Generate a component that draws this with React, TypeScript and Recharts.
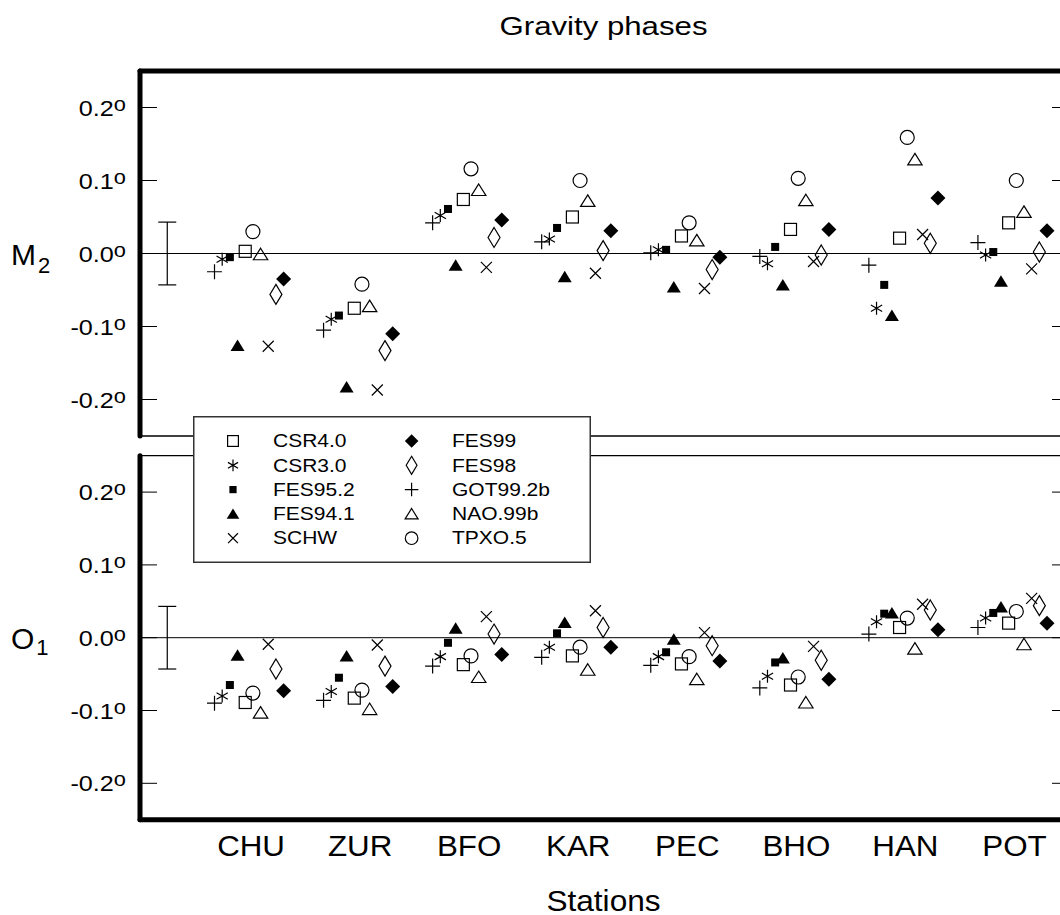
import React from 'react';
import { ScatterChart, Scatter, XAxis, YAxis, ReferenceLine, ErrorBar, Legend, Label } from 'recharts';

const FONT = '"Liberation Sans", Arial, Helvetica, sans-serif';

// ---------- data ----------
const stations = ['CHU', 'ZUR', 'BFO', 'KAR', 'PEC', 'BHO', 'HAN', 'POT'];
const yTicks = [-0.2, -0.1, 0, 0.1, 0.2];
const errorHalfWidth = 0.043;

// M2 gravity phase differences (degrees), per station
const m2CSR40 = [0.003, -0.075, 0.074, 0.05, 0.024, 0.033, 0.021, 0.042];
const m2CSR30 = [-0.008, -0.09, 0.052, 0.02, 0.005, -0.014, -0.075, -0.002];
const m2FES952 = [-0.005, -0.085, 0.061, 0.035, 0.005, 0.009, -0.043, 0.002];
const m2FES941 = [-0.126, -0.183, -0.016, -0.032, -0.046, -0.043, -0.085, -0.038];
const m2SCHW = [-0.127, -0.187, -0.019, -0.027, -0.048, -0.011, 0.026, -0.021];
const m2FES99 = [-0.035, -0.11, 0.046, 0.031, -0.005, 0.033, 0.076, 0.031];
const m2FES98 = [-0.056, -0.133, 0.022, 0.004, -0.022, -0.002, 0.014, 0.002];
const m2GOT992b = [-0.025, -0.105, 0.042, 0.016, 0.001, -0.004, -0.016, 0.015];
const m2NAO99b = [-0.001, -0.072, 0.087, 0.072, 0.018, 0.073, 0.129, 0.057];
const m2TPXO5 = [0.03, -0.042, 0.116, 0.1, 0.042, 0.103, 0.159, 0.1];

// O1 gravity phase differences (degrees), per station
const o1CSR40 = [-0.089, -0.083, -0.037, -0.025, -0.036, -0.065, 0.014, 0.02];
const o1CSR30 = [-0.08, -0.074, -0.026, -0.013, -0.026, -0.053, 0.022, 0.027];
const o1FES952 = [-0.065, -0.055, -0.007, 0.006, -0.02, -0.034, 0.033, 0.034];
const o1FES941 = [-0.024, -0.025, 0.013, 0.021, -0.002, -0.028, 0.034, 0.042];
const o1SCHW = [-0.009, -0.01, 0.029, 0.037, 0.007, -0.012, 0.046, 0.054];
const o1FES99 = [-0.073, -0.067, -0.023, -0.013, -0.032, -0.057, 0.011, 0.02];
const o1FES98 = [-0.043, -0.039, 0.005, 0.014, -0.011, -0.031, 0.038, 0.044];
const o1GOT992b = [-0.09, -0.086, -0.039, -0.027, -0.038, -0.069, 0.005, 0.014];
const o1NAO99b = [-0.103, -0.098, -0.054, -0.044, -0.057, -0.089, -0.015, -0.009];
const o1TPXO5 = [-0.076, -0.072, -0.025, -0.013, -0.026, -0.054, 0.027, 0.036];

// ---------- series styling (marker + slot within a station group) ----------
const SLOT = 0.0704;
const series = [
  { name: 'CSR4.0', kind: 'square', slot: -0.5, m2: m2CSR40, o1: o1CSR40 },
  { name: 'CSR3.0', kind: 'asterisk', slot: -3.5, m2: m2CSR30, o1: o1CSR30 },
  { name: 'FES95.2', kind: 'fsquare', slot: -2.5, m2: m2FES952, o1: o1FES952 },
  { name: 'FES94.1', kind: 'ftriangle', slot: -1.5, m2: m2FES941, o1: o1FES941 },
  { name: 'SCHW', kind: 'cross', slot: 2.5, m2: m2SCHW, o1: o1SCHW },
  { name: 'FES99', kind: 'fdiamond', slot: 4.5, m2: m2FES99, o1: o1FES99 },
  { name: 'FES98', kind: 'diamond', slot: 3.5, m2: m2FES98, o1: o1FES98 },
  { name: 'GOT99.2b', kind: 'plus', slot: -4.5, m2: m2GOT992b, o1: o1GOT992b },
  { name: 'NAO.99b', kind: 'triangle', slot: 1.5, m2: m2NAO99b, o1: o1NAO99b },
  { name: 'TPXO.5', kind: 'circle', slot: 0.5, m2: m2TPXO5, o1: o1TPXO5 },
];

const ERR_X = -0.75;
const errData = [{ x: ERR_X, y: 0, e: errorHalfWidth }];

// ---------- drawing helpers ----------
function Marker({ kind, cx, cy, k = 1 }: any) {
  const st = { stroke: '#000', strokeWidth: 1.2, fill: 'none' };
  switch (kind) {
    case 'square':
      return <rect x={cx - 6 * k} y={cy - 6 * k} width={12 * k} height={12 * k} {...st} />;
    case 'fsquare':
      return <rect x={cx - 4 * k} y={cy - 4 * k} width={8 * k} height={8 * k} fill="#000" />;
    case 'asterisk': {
      const r = 6.5 * k;
      const a = r * Math.cos(Math.PI / 6);
      const b = r * 0.5;
      return (
        <path
          d={`M${cx},${cy - r}V${cy + r}M${cx - a},${cy - b}L${cx + a},${cy + b}M${cx - a},${cy + b}L${cx + a},${cy - b}`}
          {...st}
        />
      );
    }
    case 'ftriangle':
      return <path d={`M${cx},${cy - 6 * k}L${cx + 7 * k},${cy + 5.5 * k}L${cx - 7 * k},${cy + 5.5 * k}Z`} fill="#000" />;
    case 'triangle':
      return <path d={`M${cx},${cy - 6 * k}L${cx + 7.2 * k},${cy + 5.5 * k}L${cx - 7.2 * k},${cy + 5.5 * k}Z`} {...st} />;
    case 'cross': {
      const r = 5.5 * k;
      return <path d={`M${cx - r},${cy - r}L${cx + r},${cy + r}M${cx - r},${cy + r}L${cx + r},${cy - r}`} {...st} />;
    }
    case 'plus': {
      const r = 7.5 * k;
      return <path d={`M${cx - r},${cy}H${cx + r}M${cx},${cy - r}V${cy + r}`} {...st} />;
    }
    case 'diamond':
      return <path d={`M${cx},${cy - 10 * k}L${cx + 6 * k},${cy}L${cx},${cy + 10 * k}L${cx - 6 * k},${cy}Z`} {...st} />;
    case 'fdiamond':
      return <path d={`M${cx},${cy - 7.5 * k}L${cx + 7.5 * k},${cy}L${cx},${cy + 7.5 * k}L${cx - 7.5 * k},${cy}Z`} fill="#000" />;
    case 'circle':
      return <circle cx={cx} cy={cy} r={7 * k} {...st} />;
    default:
      return <g />;
  }
}

function SText({ x, y, size, sx = 1, anchor = 'start', children }: any) {
  return (
    <text
      transform={`translate(${x},${y}) scale(${sx},1)`}
      x={0}
      y={0}
      fontSize={size}
      textAnchor={anchor}
      fontFamily={FONT}
      fill="#000"
    >
      {children}
    </text>
  );
}

const LeftTick = (p: any) => {
  const v = p.payload.value as number;
  return (
    <g>
      <line x1={p.x} x2={p.x + 17} y1={p.y} y2={p.y} stroke="#000" strokeWidth={1} />
      <SText x={p.x - 14} y={p.y + 8} size={22.5} sx={1.12} anchor="end">
        {v.toFixed(1)}
        <tspan fontSize={19.5} dy={-5}>o</tspan>
      </SText>
    </g>
  );
};

const RightTick = (p: any) => (
  <line x1={p.x - 15} x2={p.x} y1={p.y} y2={p.y} stroke="#000" strokeWidth={1} />
);

const StationTick = (p: any) => (
  <SText x={p.x + 2} y={p.y + 36} size={29} sx={1.08} anchor="middle">
    {stations[p.payload.value]}
  </SText>
);

const panelLabel = (main: string, sub: string, drop: number) => (props: any) => {
  const vb = props.viewBox;
  const cy = vb.y + vb.height / 2;
  return (
    <text x={11} y={cy + 11.5} fontSize={30} fontFamily={FONT} fill="#000">
      {main}
      <tspan fontSize={22} dx={2} dy={drop}>{sub}</tspan>
    </text>
  );
};

const TitleLabel = (props: any) => {
  const vb = props.viewBox;
  return (
    <SText x={vb.x + vb.width / 2} y={vb.y + 35} size={26} sx={1.2} anchor="middle">
      Gravity phases
    </SText>
  );
};

const StationsLabel = (props: any) => {
  const vb = props.viewBox;
  return (
    <SText x={vb.x + vb.width / 2} y={vb.y + 91} size={29} sx={1.09} anchor="middle">
      Stations
    </SText>
  );
};

const legendCol1 = ['CSR4.0', 'CSR3.0', 'FES95.2', 'FES94.1', 'SCHW'];
const legendCol2 = ['FES99', 'FES98', 'GOT99.2b', 'NAO.99b', 'TPXO.5'];

const LegendBox = () => {
  const kindOf = (n: string) => series.find((s) => s.name === n)!.kind;
  const rowY = (r: number) => 25 + r * 24.3;
  return (
    <svg width={398} height={147} style={{ display: 'block' }}>
      <rect x={0.75} y={0.75} width={396.5} height={145.5} fill="#fff" stroke="#333" strokeWidth={1.5} />
      {legendCol1.map((n, r) => (
        <g key={n}>
          <Marker kind={kindOf(n)} cx={40} cy={rowY(r)} k={0.9} />
          <SText x={80} y={rowY(r) + 6.2} size={17.5} sx={1.2}>{n}</SText>
        </g>
      ))}
      {legendCol2.map((n, r) => (
        <g key={n}>
          <Marker kind={kindOf(n)} cx={218.6} cy={rowY(r)} k={0.9} />
          <SText x={259} y={rowY(r) + 6.2} size={17.5} sx={1.2}>{n}</SText>
        </g>
      ))}
    </svg>
  );
};

const X_DOMAIN: [number, number] = [-1, 7.5];
const Y_DOMAIN: [number, number] = [-0.25, 0.25];
const CHART_W = 1072;

function pointsFor(values: number[], slot: number) {
  return values.map((v, i) => ({ x: i + slot * SLOT, y: v }));
}

function Panel({ which }: { which: 'm2' | 'o1' }) {
  return (
    <>
      {series.map((s) => (
        <Scatter
          key={s.name}
          name={s.name}
          data={pointsFor(s[which], s.slot)}
          isAnimationActive={false}
          shape={(p: any) => <Marker kind={s.kind} cx={p.cx} cy={p.cy} />}
        />
      ))}
    </>
  );
}

export default function App() {
  const axisThick = { stroke: '#000', strokeWidth: 5, strokeLinecap: 'round' } as any;
  return (
    <div
      style={{
        position: 'absolute',
        left: 0,
        top: 0,
        width: 1060,
        height: 915,
        overflow: 'hidden',
        background: '#fff',
      }}
    >
      {/* M2 panel */}
      <div style={{ position: 'absolute', left: 0, top: 0, zIndex: 2 }}>
        <ScatterChart width={CHART_W} height={440} margin={{ top: 0, right: 0, bottom: 4, left: 0 }}>
          <XAxis
            type="number"
            dataKey="x"
            domain={X_DOMAIN}
            allowDataOverflow
            orientation="top"
            height={71}
            tick={false}
            tickLine={false}
            axisLine={axisThick}
          >
            <Label content={TitleLabel} />
          </XAxis>
          <YAxis
            type="number"
            dataKey="y"
            domain={Y_DOMAIN}
            allowDataOverflow
            ticks={yTicks}
            width={140}
            tickSize={0}
            tickMargin={0}
            tickLine={false}
            axisLine={axisThick}
            tick={LeftTick}
            interval={0}
          >
            <Label content={panelLabel('M', '2', 8)} />
          </YAxis>
          <YAxis
            yAxisId="r"
            orientation="right"
            type="number"
            domain={Y_DOMAIN}
            allowDataOverflow
            ticks={yTicks}
            width={5}
            tickSize={0}
            tickMargin={0}
            tickLine={false}
            axisLine={false}
            tick={RightTick}
            interval={0}
          />
          <ReferenceLine y={0} stroke="#000" strokeWidth={1} />
          <ReferenceLine y={-0.25} stroke="#000" strokeWidth={1.3} />
          <Scatter name="err" data={errData} isAnimationActive={false} shape={() => <g />} legendType="none">
            <ErrorBar dataKey="e" direction="y" width={9} stroke="#000" strokeWidth={1.2} />
          </Scatter>
          {Panel({ which: 'm2' })}
          <Legend
            layout="horizontal"
            verticalAlign="middle"
            align="center"
            content={LegendBox}
            wrapperStyle={{ position: 'absolute', left: 192.7, top: 416, width: 398, height: 147, zIndex: 5 }}
          />
        </ScatterChart>
      </div>

      {/* O1 panel */}
      <div style={{ position: 'absolute', left: 0, top: 440, zIndex: 1 }}>
        <ScatterChart width={CHART_W} height={475} margin={{ top: 15.7, right: 0, bottom: 0, left: 0 }}>
          <XAxis
            type="number"
            dataKey="x"
            domain={X_DOMAIN}
            allowDataOverflow
            orientation="bottom"
            height={95.3}
            ticks={[0, 1, 2, 3, 4, 5, 6, 7]}
            interval={0}
            tickSize={0}
            tickMargin={0}
            tickLine={false}
            axisLine={axisThick}
            tick={StationTick}
          >
            <Label content={StationsLabel} />
          </XAxis>
          <YAxis
            type="number"
            dataKey="y"
            domain={Y_DOMAIN}
            allowDataOverflow
            ticks={yTicks}
            width={140}
            tickSize={0}
            tickMargin={0}
            tickLine={false}
            axisLine={axisThick}
            tick={LeftTick}
            interval={0}
          >
            <Label content={panelLabel('O', '1', 6)} />
          </YAxis>
          <YAxis
            yAxisId="r"
            orientation="right"
            type="number"
            domain={Y_DOMAIN}
            allowDataOverflow
            ticks={yTicks}
            width={5}
            tickSize={0}
            tickMargin={0}
            tickLine={false}
            axisLine={false}
            tick={RightTick}
            interval={0}
          />
          <ReferenceLine y={0} stroke="#000" strokeWidth={1} />
          <ReferenceLine y={0.25} stroke="#000" strokeWidth={1.3} />
          <Scatter name="err" data={errData} isAnimationActive={false} shape={() => <g />} legendType="none">
            <ErrorBar dataKey="e" direction="y" width={9} stroke="#000" strokeWidth={1.2} />
          </Scatter>
          {Panel({ which: 'o1' })}
        </ScatterChart>
      </div>
    </div>
  );
}
